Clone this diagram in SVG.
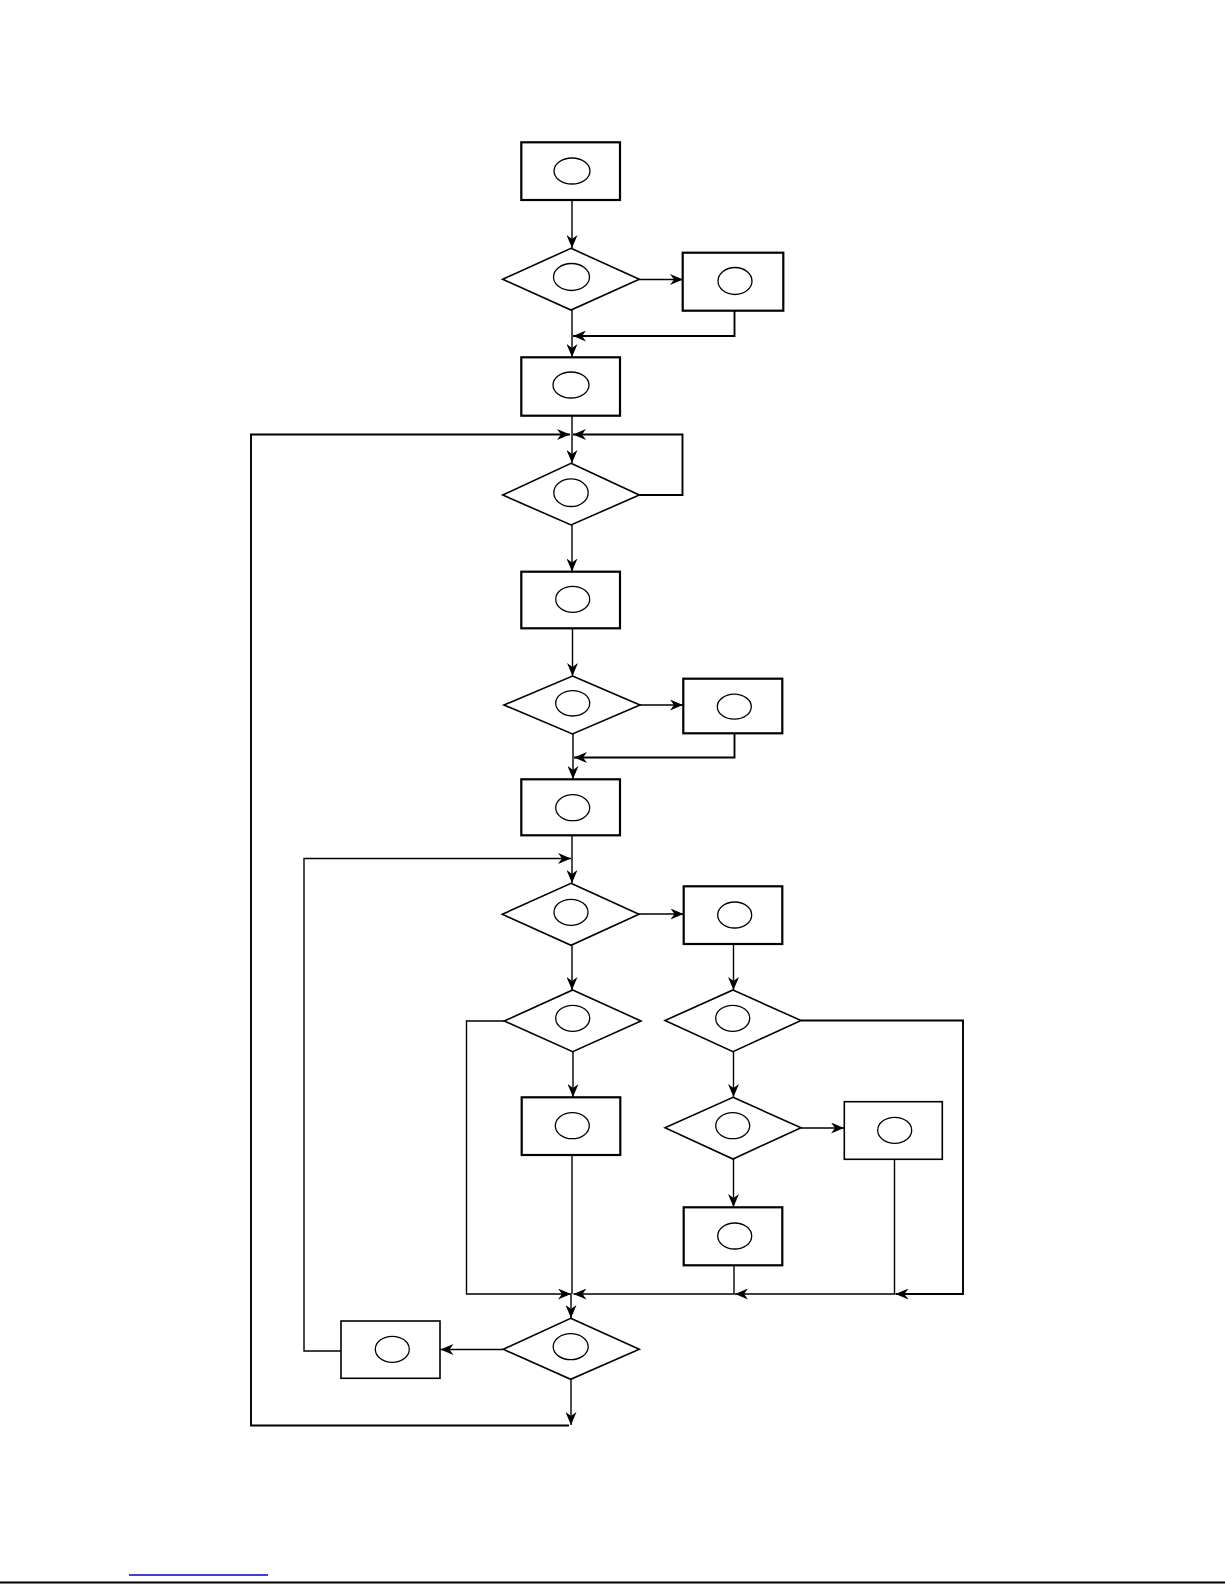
<svg xmlns="http://www.w3.org/2000/svg" width="1225" height="1585" viewBox="0 0 1225 1585">
<style>
.box{fill:#fff;stroke:#000;stroke-width:2.2}
.dia{fill:#fff;stroke:#000;stroke-width:1.6}
.ell{fill:none;stroke:#000;stroke-width:1.3}
.con{fill:none;stroke:#000;stroke-width:1.4}
.thk{stroke-width:1.9}
.arr{marker-end:url(#ah)}
</style>
<defs>
<marker id="ah" viewBox="0 0 13 11" refX="13" refY="5.5" markerWidth="13" markerHeight="11" markerUnits="userSpaceOnUse" orient="auto">
<path d="M0,0 L13,5.5 L0,11 L4,5.5 z" fill="#000"/>
</marker>
</defs>
<rect width="1225" height="1585" fill="#fff"/>
<g id="connectors">
<path class="con arr" d="M572,200 V248"/>
<path class="con arr" d="M639,279.5 H683"/>
<path class="con thk arr" d="M734.5,311 V336 H573"/>
<path class="con arr" d="M572,310 V357"/>
<path class="con arr" d="M572,415 V463"/>
<path class="con thk arr" d="M639,495 H682.5 V434.5 H573"/>
<path class="con arr" d="M571,1379 V1425"/>
<path class="con thk arr" d="M569,1425.5 H251 V434.5 H570"/>
<path class="con arr" d="M572,525 V571.5"/>
<path class="con arr" d="M572.5,628 V676"/>
<path class="con arr" d="M640,705 H683"/>
<path class="con thk arr" d="M734.5,733.5 V757.5 H574"/>
<path class="con arr" d="M573,734 V779"/>
<path class="con arr" d="M572,835 V883"/>
<path class="con arr" d="M341,1351 H304 V858.5 H571"/>
<path class="con arr" d="M639,914 H683.5"/>
<path class="con arr" d="M572,945 V990"/>
<path class="con arr" d="M733.5,944 V990"/>
<path class="con arr" d="M504,1021 H466.5 V1294 H571"/>
<path class="con arr" d="M573,1052 V1097"/>
<path class="con" d="M572,1155 V1294"/>
<path class="con arr" d="M571,1294 V1318"/>
<path class="con arr" d="M733.5,1052 V1097"/>
<path class="con thk arr" d="M801,1020.5 H963 V1294 H895.5"/>
<path class="con arr" d="M801,1128 H844"/>
<path class="con arr" d="M894.5,1159.5 V1294 H735"/>
<path class="con arr" d="M733.5,1159 V1207"/>
<path class="con arr" d="M734,1265 V1294 H573.5"/>
<path class="con arr" d="M503,1349.5 H440.5"/>
</g>
<g id="n1"><rect class="box" x="521.3" y="142.3" width="98.7" height="57.7"/><ellipse class="ell" cx="572" cy="171" rx="18" ry="13"/></g>
<g id="n2"><polygon class="dia" points="571,248.3 639.3,279.3 571,310 502.7,279.3"/><ellipse class="ell" cx="571.5" cy="277" rx="18" ry="13.5"/></g>
<g id="n3"><rect class="box" x="682.7" y="252.7" width="100.6" height="58"/><ellipse class="ell" cx="735" cy="281" rx="17" ry="13.5"/></g>
<g id="n4"><rect class="box" x="521.3" y="357.3" width="98.7" height="58.4"/><ellipse class="ell" cx="571" cy="385" rx="18" ry="13"/></g>
<g id="n5"><polygon class="dia" points="571,463.3 639.3,495 571,525 502.7,495"/><ellipse class="ell" cx="571" cy="492.7" rx="17.2" ry="13.8"/></g>
<g id="n6"><rect class="box" x="521.3" y="571.7" width="98.7" height="56.6"/><ellipse class="ell" cx="572.7" cy="599.3" rx="17" ry="13"/></g>
<g id="n7"><polygon class="dia" points="572.5,676 640,705 572.5,734 504,705"/><ellipse class="ell" cx="572.7" cy="703.3" rx="17" ry="12.7"/></g>
<g id="n8"><rect class="box" x="683.3" y="678.7" width="99" height="54.6"/><ellipse class="ell" cx="734.3" cy="706.7" rx="17" ry="12.5"/></g>
<g id="n9"><rect class="box" x="521.3" y="779.3" width="98.7" height="56"/><ellipse class="ell" cx="572.7" cy="807.7" rx="17" ry="13"/></g>
<g id="n10"><polygon class="dia" points="571,883.3 639,914.3 571,945.3 502.3,914.3"/><ellipse class="ell" cx="571" cy="912.3" rx="17" ry="13"/></g>
<g id="n11"><rect class="box" x="683.7" y="886.3" width="98.6" height="57.7"/><ellipse class="ell" cx="734.7" cy="915" rx="17" ry="13"/></g>
<g id="n12"><polygon class="dia" points="572.7,990 641,1021 572.7,1051.7 504.3,1021"/><ellipse class="ell" cx="572.7" cy="1018.3" rx="17" ry="13"/></g>
<g id="n13"><polygon class="dia" points="733,990 801,1020.5 733,1051.7 665,1020.5"/><ellipse class="ell" cx="732.7" cy="1018.3" rx="17" ry="13"/></g>
<g id="n14"><rect class="box" x="521.7" y="1097.3" width="98.6" height="57.7"/><ellipse class="ell" cx="572.3" cy="1125.7" rx="17" ry="13"/></g>
<g id="n15"><polygon class="dia" points="733,1097.3 801,1127.7 733,1159 665,1127.7"/><ellipse class="ell" cx="732.7" cy="1125.7" rx="17" ry="13"/></g>
<g id="n16"><rect class="box" x="844.3" y="1101.7" width="98" height="57.6" style="stroke-width:1.6"/><ellipse class="ell" cx="894.7" cy="1130.3" rx="17" ry="13"/></g>
<g id="n17"><rect class="box" x="683.7" y="1207.3" width="98.6" height="58"/><ellipse class="ell" cx="734.7" cy="1236" rx="17" ry="13"/></g>
<g id="n18"><polygon class="dia" points="570.7,1318.3 639.3,1349.3 570.7,1379.3 503.3,1349.3"/><ellipse class="ell" cx="570.7" cy="1346.7" rx="17.5" ry="13"/></g>
<g id="n19"><rect class="box" x="341" y="1321" width="99" height="57.3" style="stroke-width:1.6"/><ellipse class="ell" cx="392.3" cy="1349.3" rx="17" ry="13"/></g>
<g id="footer">
<line x1="129" y1="1575" x2="268" y2="1575" stroke="#0000cc" stroke-width="1.5"/>
<line x1="0" y1="1582.5" x2="1225" y2="1582.5" stroke="#000" stroke-width="2"/>
</g>
</svg>
